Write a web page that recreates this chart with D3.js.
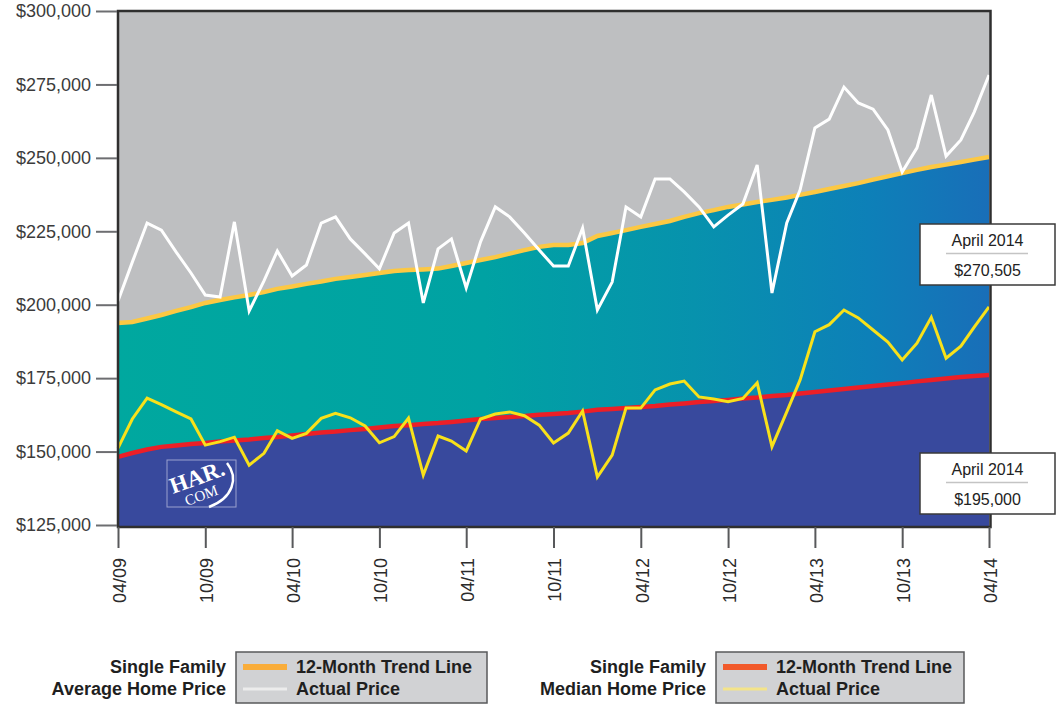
<!DOCTYPE html>
<html>
<head>
<meta charset="utf-8">
<script src="https://cdn.jsdelivr.net/npm/d3@7"></script>
<style>
  body { margin: 0; background: #fff; }
  svg { display: block; font-family: "Liberation Sans", Arial, Helvetica, sans-serif; }
</style>
</head>
<body>
<svg id="chart" width="1062" height="705"></svg>
<script>
// Monthly series, April 2009 - April 2014
const months = d3.timeMonth.range(new Date(2009, 3, 1), new Date(2014, 4, 1));

const avgActual = [
  201300, 214500, 227800, 225400, 217900, 210800, 203300, 202600, 228200, 197900,
  208100, 218300, 209800, 213500, 227800, 229900, 222400, 217300, 212200, 224400,
  227800, 200600, 219000, 222400, 205700, 221400, 233300, 229900, 224400, 218600,
  213200, 213200, 226100, 198200, 207700, 233300, 229900, 242800, 242800, 238400,
  233300, 226500, 230500, 234300, 247600, 204000, 227800, 239100, 260200, 263200,
  274100, 268700, 266600, 259500, 245200, 253400, 271400, 250600, 256100, 265600,
  278200
];
const avgTrend = [
  193800, 194100, 195300, 196500, 197900, 199200, 200600, 201600, 202500, 203300,
  204300, 205400, 206200, 207100, 207900, 208800, 209400, 210100, 210800, 211500,
  211800, 212000, 212300, 213200, 214200, 215200, 216200, 217400, 218600, 219700,
  220300, 220300, 221000, 223400, 224400, 225400, 226500, 227500, 228500, 229900,
  231200, 232200, 233300, 234100, 235000, 235700, 236500, 237400, 238400, 239400,
  240400, 241400, 242600, 243700, 244800, 245900, 246900, 247700, 248600, 249400,
  250300
];
const medActual = [
  151200, 161100, 168200, 166000, 163500, 161100, 152200, 153400, 154900, 145400,
  149400, 157100, 154500, 156200, 161300, 163000, 161500, 158700, 153000, 155100,
  161400, 142000, 155300, 153600, 150200, 161100, 162800, 163500, 162200, 159000,
  152900, 156300, 163800, 141300, 148800, 164800, 164800, 171000, 173000, 174000,
  168600, 167900, 167000, 168100, 173400, 151700, 163500, 174400, 190800, 193200,
  198200, 195500, 191400, 187300, 181200, 186900, 195700, 181800, 185900, 192400,
  199300
];
const medTrend = [
  148200, 149500, 150700, 151600, 152100, 152600, 152900, 153400, 153800, 154100,
  154600, 155000, 155500, 156000, 156500, 156800, 157300, 157700, 158200, 158700,
  159000, 159400, 159700, 160100, 160600, 161100, 161400, 161800, 162100, 162500,
  162800, 163100, 163600, 164200, 164500, 164800, 165200, 165500, 166000, 166400,
  166900, 167200, 167600, 168100, 168400, 168900, 169300, 169800, 170300, 170800,
  171300, 171800, 172300, 172800, 173300, 173900, 174400, 174900, 175400, 175700,
  176100
];

const yTicks = [125000, 150000, 175000, 200000, 225000, 250000, 275000, 300000];
const xTicks = months.filter((d, i) => i % 6 === 0); // 04/09, 10/09, ... 04/14
const callouts = [
  { label: 'April 2014', value: '$270,505' },
  { label: 'April 2014', value: '$195,000' }
];
const legendTitles = [
  ['Single Family', 'Average Home Price'],
  ['Single Family', 'Median Home Price']
];
const legendItems = ['12-Month Trend Line', 'Actual Price'];

// layout
const plot = { left: 118, right: 990.5, top: 11, bottom: 527 };
const svg = d3.select('#chart');

const x = d3.scaleTime()
  .domain([months[0], months[months.length - 1]])
  .range([118, 989]);
const y = d3.scaleLinear()
  .domain([125000, 300000])
  .range([525, 11]);

const rows = months.map((m, i) => ({
  date: m, avgA: avgActual[i], avgT: avgTrend[i], medA: medActual[i], medT: medTrend[i]
}));

// gradient for the average-trend band
const defs = svg.append('defs');
const grad = defs.append('linearGradient')
  .attr('id', 'bandGrad')
  .attr('gradientUnits', 'userSpaceOnUse')
  .attr('x1', plot.left).attr('x2', plot.right)
  .attr('y1', 0).attr('y2', 0);
[[0, '#00a89f'], [0.42, '#00a2a3'], [0.66, '#0792ad'], [0.86, '#0d80b8'], [1, '#196eb8']]
  .forEach(([o, c]) => grad.append('stop').attr('offset', o).attr('stop-color', c));

// plot background
svg.append('rect')
  .attr('x', plot.left).attr('y', plot.top)
  .attr('width', plot.right - plot.left).attr('height', plot.bottom - plot.top)
  .attr('fill', '#bebfc1');

const areaUnder = key => d3.area()
  .x(d => x(d.date))
  .y0(plot.bottom)
  .y1(d => y(d[key]));

svg.append('path').datum(rows)
  .attr('d', areaUnder('avgT'))
  .attr('fill', 'url(#bandGrad)');
svg.append('path').datum(rows)
  .attr('d', areaUnder('medT'))
  .attr('fill', '#38499d');

const line = key => d3.line().x(d => x(d.date)).y(d => y(d[key]));

svg.append('path').datum(rows)
  .attr('d', line('avgT'))
  .attr('fill', 'none').attr('stroke', '#fcc843').attr('stroke-width', 4.5);
svg.append('path').datum(rows)
  .attr('d', line('medT'))
  .attr('fill', 'none').attr('stroke', '#ec1f27').attr('stroke-width', 4.5);
svg.append('path').datum(rows)
  .attr('d', line('avgA'))
  .attr('fill', 'none').attr('stroke', '#ffffff').attr('stroke-width', 3)
  .attr('stroke-linejoin', 'miter');
svg.append('path').datum(rows)
  .attr('d', line('medA'))
  .attr('fill', 'none').attr('stroke', '#f8e11a').attr('stroke-width', 3)
  .attr('stroke-linejoin', 'miter');

// HAR.COM logo
const logo = svg.append('g').attr('transform', 'translate(167,460)');
logo.append('rect')
  .attr('width', 69).attr('height', 47)
  .attr('fill', 'none').attr('stroke', '#9aa2cf').attr('stroke-width', 1);
logo.append('text')
  .attr('transform', 'translate(6,34) rotate(-20)')
  .attr('font-family', '"Liberation Serif", "DejaVu Serif", serif')
  .attr('font-weight', 'bold').attr('font-size', 23)
  .attr('fill', '#fff').text('HAR.');
logo.append('text')
  .attr('transform', 'translate(20,46) rotate(-20)')
  .attr('font-family', '"Liberation Serif", "DejaVu Serif", serif')
  .attr('font-size', 15).attr('fill', '#fff').text('COM');
logo.append('path')
  .attr('d', 'M60,3 C72,18 66,38 42,47')
  .attr('fill', 'none').attr('stroke', '#fff').attr('stroke-width', 2.5);

// frame
svg.append('rect')
  .attr('x', plot.left).attr('y', plot.top)
  .attr('width', plot.right - plot.left).attr('height', plot.bottom - plot.top)
  .attr('fill', 'none').attr('stroke', '#2f2f2f').attr('stroke-width', 2.5);

// y axis
const yAxis = svg.append('g')
  .attr('transform', `translate(${plot.left - 1},0)`)
  .call(d3.axisLeft(y).tickValues(yTicks).tickSize(21).tickPadding(5)
    .tickFormat(d => '$' + d3.format(',')(d)));
yAxis.select('.domain').remove();
yAxis.selectAll('.tick line').attr('stroke', '#6d6e71').attr('stroke-width', 2);
yAxis.selectAll('.tick text')
  .attr('font-size', 18).attr('fill', '#3b3b3b')
  .attr('font-family', '"Liberation Sans", Arial, sans-serif');

// x axis
const xAxis = svg.append('g')
  .attr('transform', `translate(0,${plot.bottom})`)
  .call(d3.axisBottom(x).tickValues(xTicks).tickSize(21)
    .tickFormat(d3.timeFormat('%m/%y')));
xAxis.select('.domain').remove();
xAxis.selectAll('.tick line').attr('stroke', '#58595b').attr('stroke-width', 2);
xAxis.selectAll('.tick text')
  .attr('transform', 'rotate(-90)')
  .attr('x', -31).attr('y', 1).attr('dy', '0.35em')
  .attr('text-anchor', 'end')
  .attr('font-size', 18).attr('fill', '#2b2b2b')
  .attr('font-family', '"Liberation Sans", Arial, sans-serif');

// callout boxes
const calloutTops = [224, 453];
callouts.forEach((c, i) => {
  const g = svg.append('g').attr('transform', `translate(920,${calloutTops[i]})`);
  g.append('rect').attr('width', 135).attr('height', 61)
    .attr('fill', '#fff').attr('stroke', '#3a3a3a').attr('stroke-width', 1.5);
  g.append('text').attr('x', 67.5).attr('y', 21.5).attr('text-anchor', 'middle')
    .attr('font-size', 16).attr('fill', '#222').text(c.label);
  g.append('line').attr('x1', 26).attr('x2', 108).attr('y1', 29.5).attr('y2', 29.5)
    .attr('stroke', '#c4c4c4').attr('stroke-width', 1.5);
  g.append('text').attr('x', 67.5).attr('y', 52).attr('text-anchor', 'middle')
    .attr('font-size', 16).attr('fill', '#222').text(c.value);
});

// legends
const legendX = [236, 716];
const legendW = [251, 248];
const swatchColors = [['#f9ad3a', '#ececec'], ['#f15a2b', '#f4e48a']];
const swatchWidths = [[6, 3], [6, 3]];
legendTitles.forEach((t, i) => {
  const g = svg.append('g').attr('transform', `translate(${legendX[i]},652)`);
  g.append('rect').attr('width', legendW[i]).attr('height', 51)
    .attr('fill', '#d1d2d4').attr('stroke', '#58595b').attr('stroke-width', 1.5);
  t.forEach((s, j) => {
    g.append('text').attr('x', -10).attr('y', 21 + j * 22)
      .attr('text-anchor', 'end').attr('font-weight', 'bold')
      .attr('font-size', 18).attr('fill', '#1f1f1f').text(s);
  });
  legendItems.forEach((s, j) => {
    g.append('line').attr('x1', 7).attr('x2', 51)
      .attr('y1', 15 + j * 22).attr('y2', 15 + j * 22)
      .attr('stroke', swatchColors[i][j]).attr('stroke-width', swatchWidths[i][j]);
    g.append('text').attr('x', 60).attr('y', 21 + j * 22)
      .attr('font-weight', 'bold').attr('font-size', 18)
      .attr('fill', '#1f1f1f').text(s);
  });
});
</script>
</body>
</html>
